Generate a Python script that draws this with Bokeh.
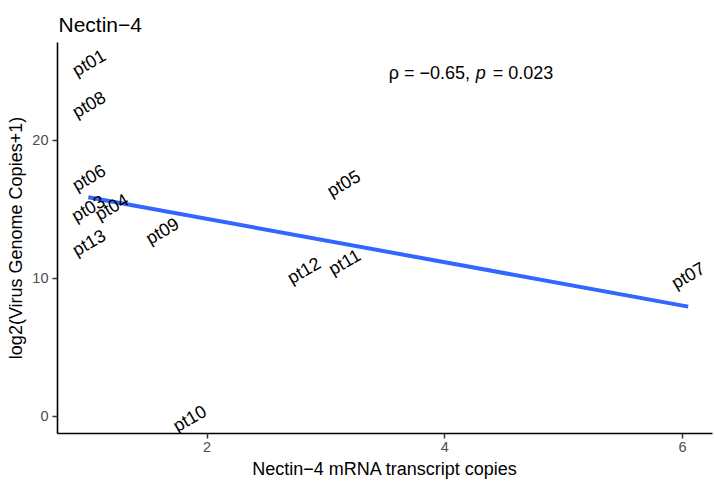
import numpy as np
from bokeh.plotting import figure
from bokeh.models import Range1d, FixedTicker, ColumnDataSource
from bokeh.core.properties import value
from bokeh.embed import file_html
from bokeh.resources import INLINE

# data
patients = ["pt01", "pt08", "pt06", "pt03", "pt04", "pt13", "pt09", "pt05", "pt12", "pt11", "pt07", "pt10"]
nectin4_mrna = [1.006, 1.006, 1.006, 1.0, 1.197, 1.006, 1.623, 3.149, 2.814, 3.156, 6.047, 1.853]
log2_virus = [25.62, 22.6, 17.3, 15.07, 15.17, 12.59, 13.43, 16.88, 10.58, 11.18, 10.22, -0.15]
x_ticks = [2, 4, 6]
y_ticks = [0, 10, 20]
stat_label = ["ρ = −0.65, ", "p", "= 0.023"]
stat_pos = (3.527, 24.86)

FONT = "Liberation Sans"

p = figure(width=714, height=481, output_backend="svg", toolbar_location=None,
           x_range=Range1d(0.741, 6.2515), y_range=Range1d(-1.232, 27.10),
           min_border_left=57, min_border_right=2, min_border_top=42, min_border_bottom=48)

p.title.text = "Nectin−4"
p.title.text_font = FONT
p.title.text_font_size = "21px"
p.title.text_font_style = "normal"
p.title.text_color = "black"
p.title.align = "left"
p.title.vertical_align = "top"
p.title.text_line_height = 0.6
p.title.offset = 1
p.title.standoff = 10

p.outline_line_color = None
p.xgrid.visible = False
p.ygrid.visible = False
p.background_fill_color = "white"
p.border_fill_color = "white"

for ax, ticks in ((p.xaxis, x_ticks), (p.yaxis, y_ticks)):
    ax.ticker = FixedTicker(ticks=ticks)
    ax.axis_line_color = "black"
    ax.axis_line_width = 1.6
    ax.major_tick_line_color = "#333333"
    ax.major_tick_line_width = 1.5
    ax.major_tick_out = 5
    ax.major_tick_in = 0
    ax.minor_tick_line_color = None
    ax.major_label_text_font = FONT
    ax.major_label_text_font_size = "14.5px"
    ax.major_label_text_color = "#4D4D4D"
    ax.axis_label_text_font = FONT
    ax.axis_label_text_font_size = "18px"
    ax.axis_label_text_font_style = "normal"
    ax.axis_label_text_color = "black"

p.xaxis.axis_label = "Nectin−4 mRNA transcript copies"
p.yaxis.axis_label = "log2(Virus Genome Copies+1)"
p.xaxis.major_label_standoff = 3
p.yaxis.major_label_standoff = 4
p.xaxis.axis_label_standoff = 4
p.yaxis.axis_label_standoff = 3

# linear fit (geom_smooth lm)
xa = np.array(nectin4_mrna)
ya = np.array(log2_virus)
slope, intercept = np.polyfit(xa, ya, 1)
xl = np.array([xa.min(), xa.max()])
p.line(xl, slope * xl + intercept, line_color="#3366FF", line_width=4)

src = ColumnDataSource(dict(x=nectin4_mrna, y=log2_virus, t=patients))
p.text(x="x", y="y", text="t", source=src, angle=np.deg2rad(30),
       text_align="center", text_baseline="middle",
       text_font=value(FONT), text_font_size="18px", text_color="black")

sx, sy = stat_pos
p.text(x=[sx], y=[sy], text=[stat_label[0]], text_align="left", text_baseline="middle",
       text_font=value(FONT), text_font_size="18px", text_color="black")
p.text(x=[sx], y=[sy], text=[stat_label[1]], x_offset=87, text_align="left", text_baseline="middle",
       text_font=value(FONT), text_font_size="18px", text_font_style="italic", text_color="black")
p.text(x=[sx], y=[sy], text=[stat_label[2]], x_offset=104, text_align="left", text_baseline="middle",
       text_font=value(FONT), text_font_size="18px", text_color="black")

open("out.html", "w").write(file_html(p, INLINE))
